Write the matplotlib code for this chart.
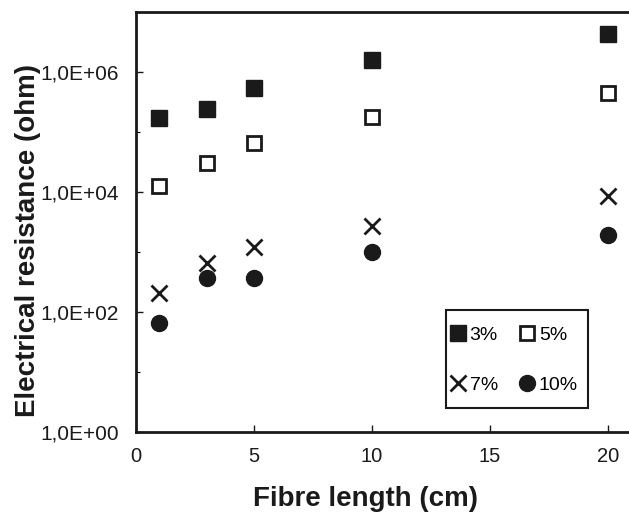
import numpy as np
import matplotlib
matplotlib.use("Agg")
import matplotlib.pyplot as plt
from matplotlib import font_manager
from matplotlib.patches import Rectangle
from matplotlib.ticker import FixedLocator, FuncFormatter, NullFormatter

#--------------------- Data ---------------------
length = [1, 3, 5, 10, 20]
r_3 = [1.7e5, 2.4e5, 5.4e5, 1.6e6, 4.3e6]
r_5 = [1.26e4, 3.0e4, 6.6e4, 1.8e5, 4.5e5]
r_7 = [2.1e2, 6.6e2, 1.2e3, 2.7e3, 8.5e3]
r_10 = [65, 3.7e2, 3.7e2, 1.0e3, 1.9e3]
ytick_vals = [1e0, 1e2, 1e4, 1e6]
ytick_labels = ["1,0E+00", "1,0E+02", "1,0E+04", "1,0E+06"]

#--------------------- Fonts (avoid the Narrow variant) ---------------------
reg_path, bold_path = None, None
for f in font_manager.findSystemFonts():
	name = f.split('/')[-1]
	if name == 'LiberationSans-Regular.ttf': reg_path = f
	if name == 'LiberationSans-Bold.ttf': bold_path = f
fp = font_manager.FontProperties(fname=reg_path) if reg_path else font_manager.FontProperties(family='DejaVu Sans')
fpb = font_manager.FontProperties(fname=bold_path) if bold_path else font_manager.FontProperties(family='DejaVu Sans', weight='bold')

ink = '#1a1a1a'
fig = plt.figure(figsize=(6.29, 5.12), dpi=100)
ax = fig.add_axes([0.216, 0.156, 0.784, 0.821])

h3, = ax.semilogy(length, r_3, ls='none', marker='s', ms=11.5, mfc=ink, mec=ink, label='3%')
h5, = ax.semilogy(length, r_5, ls='none', marker='s', ms=10.5, mfc='white', mec=ink, mew=2, label='5%')
h7, = ax.semilogy(length, r_7, ls='none', marker='x', ms=11, mec=ink, mew=2, label='7%')
h10, = ax.semilogy(length, r_10, ls='none', marker='o', ms=11.5, mfc=ink, mec=ink, label='10%')

ax.set_xlim(0, 20.9)
ax.set_ylim(1, 1e7)
ax.set_xticks([0, 5, 10, 15, 20])
ax.yaxis.set_major_locator(FixedLocator(ytick_vals))
ax.yaxis.set_major_formatter(FuncFormatter(lambda v, p: ytick_labels[ytick_vals.index(v)] if v in ytick_vals else ""))
ax.yaxis.set_minor_locator(FixedLocator([1e1, 1e3, 1e5]))
ax.yaxis.set_minor_formatter(NullFormatter())
ax.tick_params(axis='both', which='major', direction='in', length=5, width=1, colors=ink)
ax.tick_params(axis='y', which='minor', direction='in', length=3, width=0.8)
ax.tick_params(axis='y', pad=12)
ax.tick_params(axis='x', pad=11)
for lab in ax.get_yticklabels():
	lab.set_fontproperties(fp)
	lab.set_fontsize(15)
for lab in ax.get_xticklabels():
	lab.set_fontproperties(fp)
	lab.set_fontsize(14.5)

for s in ['left', 'bottom', 'top']:
	ax.spines[s].set_linewidth(2)
	ax.spines[s].set_color(ink)
ax.spines['right'].set_visible(False)

ax.set_xlabel("Fibre length (cm)", fontproperties=fpb, fontsize=20, color=ink)
ax.xaxis.set_label_coords(0.466, -0.129)
ax.set_ylabel("Electrical resistance (ohm)", fontproperties=fpb, fontsize=20, color=ink)
ax.yaxis.set_label_coords(-0.192, 0.457)

# legend box drawn separately (tight sides, tall top/bottom like the original)
ax.add_patch(Rectangle((0.629, 0.057), 0.288, 0.233, transform=ax.transAxes,
	fill=True, facecolor='white', edgecolor=ink, lw=1.5, zorder=4))
lp = font_manager.FontProperties(fname=reg_path, size=14) if reg_path else None
leg = ax.legend([h3, h7, h5, h10], ['3%', '7%', '5%', '10%'], ncol=2, loc='center',
	bbox_to_anchor=(0.767, 0.171), prop=lp, frameon=False,
	handlelength=0.8, handletextpad=0.2, columnspacing=1.1, labelspacing=1.65, borderpad=0.2)
leg.set_zorder(5)

fig.savefig("out.png", dpi=100)
